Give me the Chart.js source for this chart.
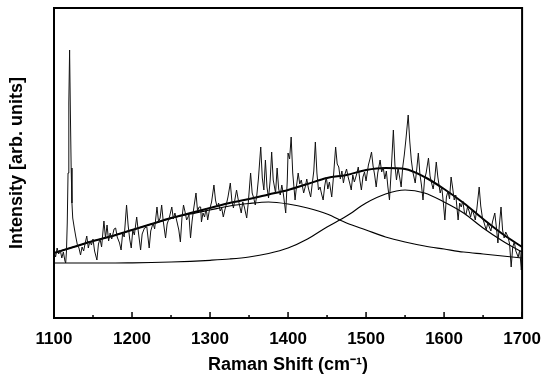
<!DOCTYPE html>
<html>
<head>
<meta charset="utf-8">
<script src="https://cdn.jsdelivr.net/npm/chart.js@4/dist/chart.umd.min.js"></script>
<style>
  html, body { margin: 0; padding: 0; background: #fff; }
</style>
</head>
<body>
<canvas id="ramanChart" width="544" height="378"></canvas>
<script>
var shift = [1100,1102,1104,1106,1108,1110,1112,1114,1115,1116,1117,1118,1119,1120,1121,1122,1123,1124,1126,1128,
  1130,1132,1134,1136,1138,1140,1142,1144,1146,1148,1150,1152,1155,1157,1159,1161,1164,1166,1168,1170,
  1172,1174,1177,1179,1181,1184,1186,1188,1190,1193,1195,1197,1199,1201,1203,1206,1208,1211,1213,1216,
  1219,1222,1224,1227,1229,1232,1234,1236,1238,1240,1243,1245,1248,1251,1253,1255,1258,1260,1262,1264,
  1266,1268,1270,1273,1275,1277,1279,1282,1284,1286,1288,1289,1291,1293,1295,1297,1299,1302,1305,1307,
  1309,1311,1313,1315,1317,1319,1321,1323,1326,1328,1330,1332,1334,1336,1338,1340,1342,1344,1347,1349,
  1352,1354,1356,1358,1360,1362,1365,1367,1369,1371,1373,1375,1377,1379,1381,1384,1386,1388,1390,1392,
  1394,1397,1399,1400,1402,1404,1406,1409,1411,1413,1415,1417,1420,1422,1424,1426,1429,1431,1433,1435,
  1437,1439,1441,1443,1445,1447,1449,1451,1453,1456,1458,1461,1463,1465,1467,1469,1471,1473,1475,1477,
  1479,1481,1483,1485,1488,1490,1492,1494,1496,1498,1500,1503,1505,1507,1509,1511,1513,1515,1518,1520,
  1522,1524,1526,1528,1530,1532,1535,1537,1539,1541,1543,1545,1547,1549,1551,1554,1556,1558,1560,1563,
  1565,1567,1569,1571,1573,1575,1577,1580,1582,1584,1586,1588,1590,1592,1595,1597,1599,1601,1603,1605,
  1607,1609,1611,1613,1615,1618,1620,1622,1624,1626,1628,1630,1632,1634,1636,1638,1640,1642,1645,1647,
  1649,1651,1654,1656,1658,1660,1662,1665,1667,1669,1671,1673,1675,1677,1679,1682,1684,1686,1688,1690,
  1692,1695,1697,1699,1700];
var intensity = [1.2,0.6,1.5,0.9,1.3,0.5,1.1,0.2,0.0,1.2,4.0,9.0,16.0,21.3,15.0,9.5,6.0,4.5,3.5,2.6,
  1.8,1.5,0.8,1.6,1.2,2.0,2.7,1.5,2.2,1.8,2.4,1.2,0.3,1.9,2.4,1.6,4.2,2.5,3.8,2.2,
  3.0,2.4,3.4,3.5,2.6,2.0,1.3,3.0,2.6,5.8,3.8,2.4,1.5,3.3,2.8,4.6,3.2,1.3,2.9,3.5,
  3.6,1.5,3.2,4.0,3.4,5.6,4.1,4.5,5.8,4.2,2.5,3.9,4.6,5.6,4.4,5.0,4.0,3.3,2.1,4.5,
  5.8,5.1,4.3,4.8,2.5,4.2,5.4,7.0,5.2,5.6,5.6,4.1,5.0,4.6,5.5,4.3,5.2,6.1,7.8,6.3,
  5.6,6.0,5.2,5.5,4.6,5.3,5.9,6.6,8.0,6.2,5.5,6.4,7.3,6.4,5.7,5.0,6.1,5.6,4.5,6.0,
  9.0,7.0,6.5,5.8,6.8,8.4,11.6,8.5,7.3,10.3,7.6,6.5,8.2,11.1,8.3,7.0,9.5,7.4,6.8,7.8,
  6.9,5.0,8.2,11.0,10.4,12.6,9.0,6.3,7.8,9.0,7.9,8.3,7.0,7.6,8.4,7.5,6.6,7.9,9.2,12.1,
  9.0,7.3,7.6,6.9,6.3,7.7,8.6,7.4,8.1,6.6,8.4,11.6,9.9,9.6,8.4,9.2,8.0,8.9,9.4,8.6,
  8.0,7.3,8.8,8.1,8.9,9.6,8.3,7.3,8.6,9.1,8.2,9.8,10.4,11.1,9.7,8.8,7.6,9.0,10.3,9.1,
  9.6,8.4,9.2,7.6,6.3,8.9,13.3,9.8,8.3,9.5,8.6,7.6,9.6,10.8,12.3,14.8,12.2,10.3,9.1,8.0,
  9.4,11.0,8.9,7.8,6.3,8.4,9.0,10.5,8.7,8.0,7.4,8.4,10.1,8.6,7.0,7.6,6.1,4.3,6.6,7.2,
  6.4,8.6,7.5,6.3,6.8,4.3,6.0,5.6,6.2,5.1,4.8,5.6,5.2,4.6,5.3,4.9,4.3,5.4,7.6,5.7,
  4.6,4.1,3.3,4.0,3.6,3.2,4.1,5.0,3.6,2.0,3.9,5.6,3.3,2.5,3.1,2.6,1.9,-0.4,1.6,2.1,
  1.2,0.6,1.3,-0.7,0.3];

// fitted curves, read every 25 cm-1
var fitShift = [1100,1125,1150,1175,1200,1225,1250,1275,1300,1325,1350,1375,1400,1425,1450,1475,1500,1525,1550,1575,1600,1625,1650,1675,1700];
var band1  = [1.0,1.6,2.2,2.7,3.3,3.9,4.45,4.9,5.3,5.7,5.95,6.1,5.9,5.5,4.9,4.0,3.3,2.6,2.1,1.7,1.4,1.1,0.9,0.7,0.5];
var band2  = [0,0,0,0,0.02,0.05,0.1,0.17,0.27,0.4,0.6,0.95,1.5,2.4,3.6,4.7,6.0,6.9,7.3,7.0,6.1,5.0,3.5,2.2,1.1];
var fitSum = [1.0,1.6,2.2,2.7,3.3,3.9,4.5,5.0,5.5,6.0,6.4,6.85,7.3,7.9,8.5,8.8,9.3,9.5,9.4,8.6,7.4,6.0,4.4,2.9,1.6];

var majorTicks = [1100,1200,1300,1400,1500,1600,1700];
var minorTicks = [1150,1250,1350,1450,1550,1650];

function pts(xs, ys) {
    return xs.map(function(x, i) { return {x: x, y: ys[i]}; });
}

var tickFont = {family: "'Liberation Sans', Arial, sans-serif", size: 17, weight: 'bold'};
var titleFont = {family: "'Liberation Sans', Arial, sans-serif", size: 18, weight: 'bold'};

// box frame + inward ticks on the bottom axis
var frameTicks = {
    id: 'frameTicks',
    afterDraw: function(chart) {
        var c = chart.ctx, a = chart.chartArea, xs = chart.scales.x;
        c.save();
        c.strokeStyle = '#000';
        c.lineWidth = 2;
        c.strokeRect(a.left, a.top, a.right - a.left, a.bottom - a.top);
        c.lineWidth = 1.5;
        majorTicks.forEach(function(v) {
            var px = xs.getPixelForValue(v);
            c.beginPath(); c.moveTo(px, a.bottom); c.lineTo(px, a.bottom - 6); c.stroke();
        });
        minorTicks.forEach(function(v) {
            var px = xs.getPixelForValue(v);
            c.beginPath(); c.moveTo(px, a.bottom); c.lineTo(px, a.bottom - 3); c.stroke();
        });
        c.restore();
    }
};

var ctx = document.getElementById('ramanChart').getContext('2d');
var myChart = new Chart(ctx, {
    type: 'line',
    data: {
        datasets: [{
            label: 'Spectrum',
            data: pts(shift, intensity),
            borderColor: '#111',
            borderWidth: 1,
            tension: 0
        }, {
            label: 'Band 1',
            data: pts(fitShift, band1),
            borderColor: '#000',
            borderWidth: 1.2,
            cubicInterpolationMode: 'monotone'
        }, {
            label: 'Band 2',
            data: pts(fitShift, band2),
            borderColor: '#000',
            borderWidth: 1.2,
            cubicInterpolationMode: 'monotone'
        }, {
            label: 'Fit',
            data: pts(fitShift, fitSum),
            borderColor: '#000',
            borderWidth: 2,
            cubicInterpolationMode: 'monotone'
        }]
    },
    options: {
        responsive: false,
        animation: false,
        layout: { padding: { top: 8, right: 14, left: 0, bottom: 0 } },
        plugins: { legend: { display: false }, tooltip: { enabled: false } },
        elements: { point: { radius: 0 } },
        scales: {
            x: {
                type: 'linear', min: 1100, max: 1700,
                grid: { display: false }, border: { display: false },
                ticks: { stepSize: 100, color: '#000', font: tickFont, padding: 3, maxRotation: 0,
                    callback: function(v) { return String(v); } },
                title: { display: true, text: 'Raman Shift (cm\u207B\u00B9)', color: '#000', font: titleFont, padding: { top: 4, bottom: 2 } },
                afterFit: function(s) { s.height = 60; }
            },
            y: {
                min: -5.5, max: 25.5,
                grid: { display: false }, border: { display: false },
                ticks: { display: false },
                title: { display: true, text: 'Intensity [arb. units]', color: '#000', font: titleFont, padding: { top: 6, bottom: 4 } },
                afterFit: function(s) { s.width = 54; }
            }
        }
    },
    plugins: [frameTicks]
});
</script>
</body>
</html>
